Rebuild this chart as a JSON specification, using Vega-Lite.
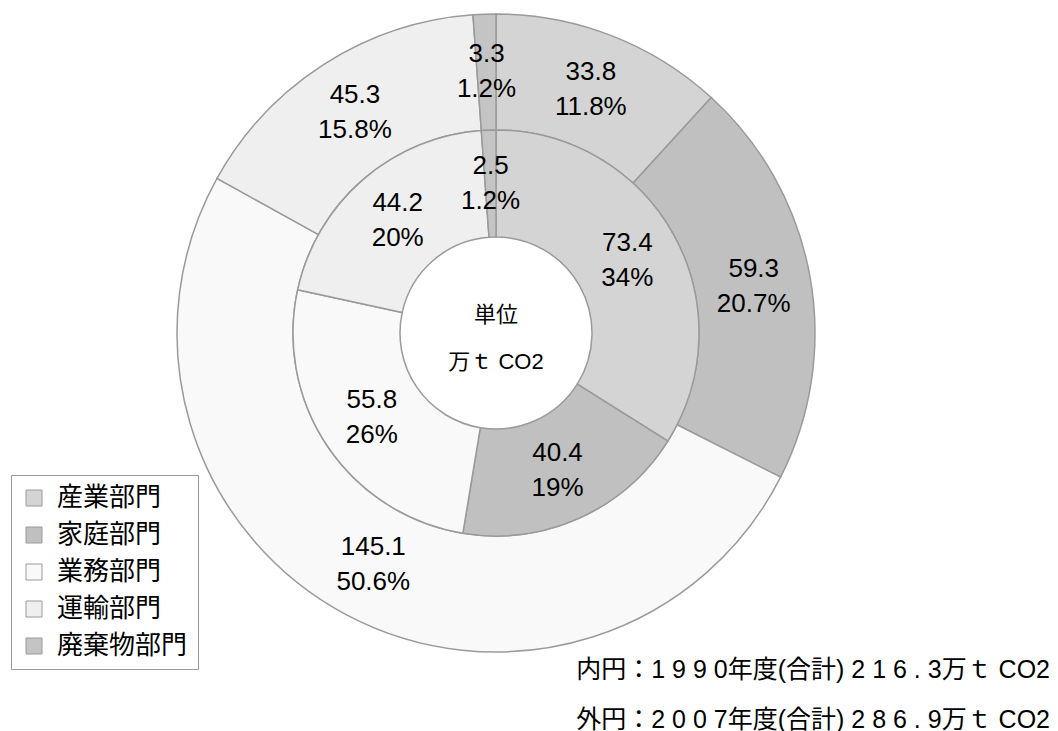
{
  "$schema": "https://vega.github.io/schema/vega-lite/v6.json",
  "width": 992,
  "height": 666,
  "autosize": {"type": "none"},
  "padding": {"left": 0, "top": 0, "right": 66, "bottom": 65},
  "background": "white",
  "config": {
    "view": {"stroke": null},
    "font": "Liberation Sans, Noto Sans CJK JP"
  },
  "title": {
    "text": ["内円：1 9 9 0年度(合計) 2 1 6 . 3万ｔ CO2", "外円：2 0 0 7年度(合計) 2 8 6 . 9万ｔ CO2"],
    "orient": "bottom",
    "anchor": "end",
    "frame": "group",
    "font": "Liberation Sans, Noto Sans CJK JP",
    "fontSize": 25,
    "fontWeight": "normal",
    "color": "black",
    "baseline": "top",
    "lineHeight": 50,
    "offset": -12,
    "dx": 58
  },
  "datasets": {
    "sectors": [
      {"ring": "inner", "sector": "産業部門", "order": 1, "value": 73.4, "pct": "34%"},
      {"ring": "inner", "sector": "家庭部門", "order": 2, "value": 40.4, "pct": "19%"},
      {"ring": "inner", "sector": "業務部門", "order": 3, "value": 55.8, "pct": "26%"},
      {"ring": "inner", "sector": "運輸部門", "order": 4, "value": 44.2, "pct": "20%"},
      {"ring": "inner", "sector": "廃棄物部門", "order": 5, "value": 2.5, "pct": "1.2%"},
      {"ring": "outer", "sector": "産業部門", "order": 1, "value": 33.8, "pct": "11.8%"},
      {"ring": "outer", "sector": "家庭部門", "order": 2, "value": 59.3, "pct": "20.7%"},
      {"ring": "outer", "sector": "業務部門", "order": 3, "value": 145.1, "pct": "50.6%"},
      {"ring": "outer", "sector": "運輸部門", "order": 4, "value": 45.3, "pct": "15.8%"},
      {"ring": "outer", "sector": "廃棄物部門", "order": 5, "value": 3.3, "pct": "1.2%"}
    ],
    "unit": [{"t": "単位", "line": 1}, {"t": "万ｔ CO2", "line": 2}]
  },
  "data": {"name": "sectors"},
  "layer": [
    {
      "transform": [{"filter": "datum.ring === 'outer'"}],
      "mark": {"type": "arc", "radius": 319, "radius2": 203, "stroke": "#9a9a9a", "strokeWidth": 1.5},
      "encoding": {
        "theta": {"field": "value", "type": "quantitative", "stack": "normalize"},
        "order": {"field": "order", "type": "quantitative"},
        "color": {
          "field": "sector",
          "type": "nominal",
          "scale": {
            "domain": ["産業部門", "家庭部門", "業務部門", "運輸部門", "廃棄物部門"],
            "range": ["#d4d4d4", "#c0c0c0", "#f9f9f9", "#efefef", "#c4c4c4"]
          },
          "legend": {
            "title": null,
            "orient": "none",
            "legendX": 11,
            "legendY": 475,
            "strokeColor": "#999999",
            "fillColor": "white",
            "padding": 10,
            "symbolType": "square",
            "symbolSize": 256,
            "symbolStrokeColor": "#999999",
            "symbolStrokeWidth": 1,
            "labelFont": "Liberation Sans, Noto Sans CJK JP",
            "labelFontSize": 26,
            "labelColor": "black",
            "labelOffset": 10,
            "labelLimit": 300,
            "rowPadding": 11
          }
        }
      }
    },
    {
      "transform": [{"filter": "datum.ring === 'inner'"}],
      "mark": {"type": "arc", "radius": 203, "radius2": 96, "stroke": "#9a9a9a", "strokeWidth": 1.5},
      "encoding": {
        "theta": {"field": "value", "type": "quantitative", "stack": "normalize"},
        "order": {"field": "order", "type": "quantitative"},
        "color": {"field": "sector", "type": "nominal"}
      }
    },
    {
      "transform": [{"filter": "datum.ring === 'outer'"}],
      "mark": {"type": "text", "radius": 262, "dy": -17, "fontSize": 26, "font": "Liberation Sans", "color": "black", "baseline": "middle"},
      "encoding": {
        "theta": {"field": "value", "type": "quantitative", "stack": "normalize"},
        "order": {"field": "order", "type": "quantitative"},
        "text": {"field": "value", "type": "quantitative", "format": ".1f"}
      }
    },
    {
      "transform": [{"filter": "datum.ring === 'outer'"}],
      "mark": {"type": "text", "radius": 262, "dy": 18, "fontSize": 26, "font": "Liberation Sans", "color": "black", "baseline": "middle"},
      "encoding": {
        "theta": {"field": "value", "type": "quantitative", "stack": "normalize"},
        "order": {"field": "order", "type": "quantitative"},
        "text": {"field": "pct", "type": "nominal"}
      }
    },
    {
      "transform": [{"filter": "datum.ring === 'inner'"}],
      "mark": {"type": "text", "radius": 150, "dy": -17, "fontSize": 26, "font": "Liberation Sans", "color": "black", "baseline": "middle"},
      "encoding": {
        "theta": {"field": "value", "type": "quantitative", "stack": "normalize"},
        "order": {"field": "order", "type": "quantitative"},
        "text": {"field": "value", "type": "quantitative", "format": ".1f"}
      }
    },
    {
      "transform": [{"filter": "datum.ring === 'inner'"}],
      "mark": {"type": "text", "radius": 150, "dy": 18, "fontSize": 26, "font": "Liberation Sans", "color": "black", "baseline": "middle"},
      "encoding": {
        "theta": {"field": "value", "type": "quantitative", "stack": "normalize"},
        "order": {"field": "order", "type": "quantitative"},
        "text": {"field": "pct", "type": "nominal"}
      }
    },
    {
      "data": {"name": "unit"},
      "transform": [{"filter": "datum.line === 1"}],
      "mark": {"type": "text", "fontSize": 22, "font": "Liberation Sans, Noto Sans CJK JP", "color": "black", "baseline": "middle", "dy": -18},
      "encoding": {
        "text": {"field": "t", "type": "nominal"}
      }
    },
    {
      "data": {"name": "unit"},
      "transform": [{"filter": "datum.line === 2"}],
      "mark": {"type": "text", "fontSize": 22, "font": "Liberation Sans, Noto Sans CJK JP", "color": "black", "baseline": "middle", "dy": 29},
      "encoding": {
        "text": {"field": "t", "type": "nominal"}
      }
    }
  ]
}
